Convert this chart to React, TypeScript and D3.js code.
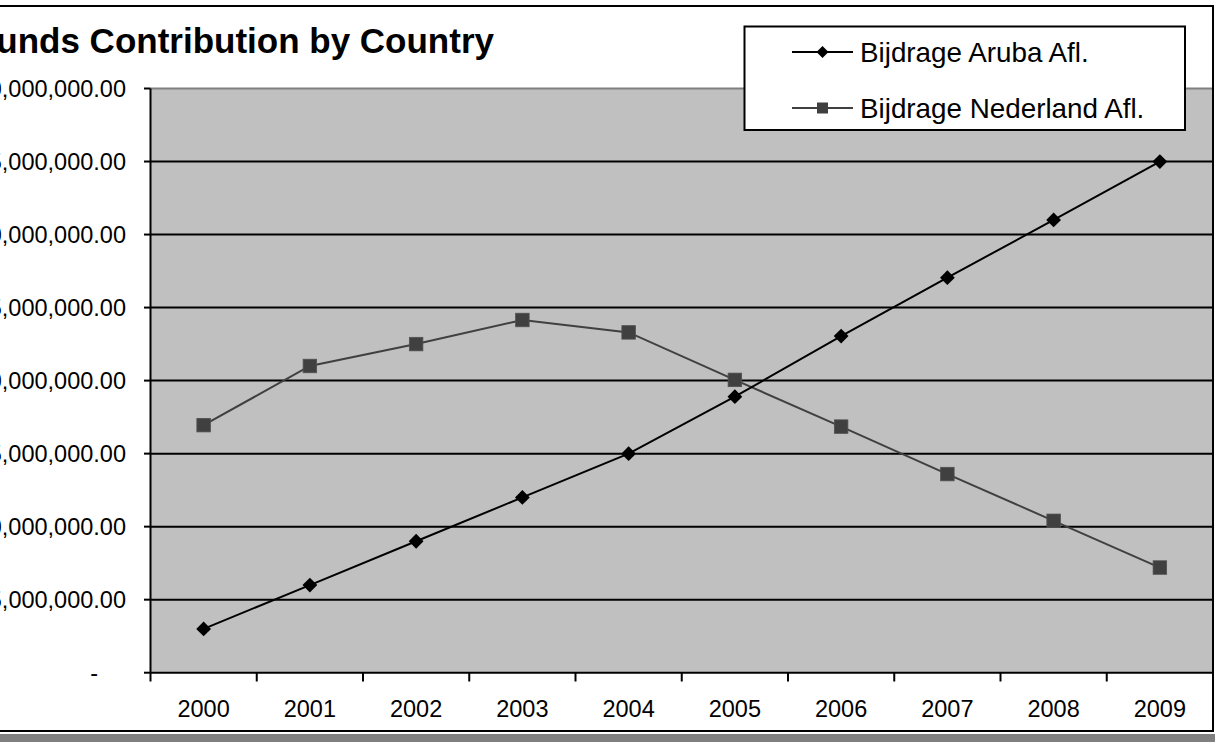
import React from "react";
import * as d3 from "d3";

const years = ["2000", "2001", "2002", "2003", "2004", "2005", "2006", "2007", "2008", "2009"];
const arubaValues = [3000000, 6000000, 9000000, 12000000, 15000000, 18900000, 23050000, 27050000, 31000000, 35000000];
const nederlandValues = [16950000, 21000000, 22500000, 24150000, 23300000, 20050000, 16850000, 13600000, 10400000, 7200000];
const yTickValues = [0, 5000000, 10000000, 15000000, 20000000, 25000000, 30000000, 35000000, 40000000];
const seriesNames = ["Bijdrage Aruba Afl.", "Bijdrage Nederland Afl."];
const titleText = "Funds Contribution by Country";

const W = 1215;
const H = 742;
const plot = { left: 150.5, right: 1213, top: 88.5, bottom: 672.7 };
const FONT = "'Liberation Sans', Arial, Helvetica, sans-serif";

export default function App() {
  const x = d3.scaleBand<string>().domain(years).range([plot.left, plot.right]).paddingInner(0).paddingOuter(0);
  const y = d3.scaleLinear().domain([0, 40000000]).range([plot.bottom, plot.top]);
  const cx = (d: string) => (x(d) as number) + x.bandwidth() / 2;
  const fmt = d3.format(",.2f");

  const line = d3
    .line<number>()
    .x((_, i) => cx(years[i]))
    .y((v) => y(v));

  const boundaries = years.map((d) => x(d) as number).concat([plot.right]);
  const diamond = (px: number, py: number, r: number) =>
    `M${px},${py - r}L${px + r},${py}L${px},${py + r}L${px - r},${py}Z`;

  const legendRows = [52, 108];

  return (
    <>
      <style>{`body{margin:0;}`}</style>
      <svg width={W} height={H} style={{ display: "block", background: "#fff" }} fontFamily={FONT}>
        {/* bottom gray band */}
        <rect x={0} y={734} width={W} height={H - 734} fill="#808080" />
        {/* outer frame */}
        <rect x={-100} y={6} width={1213 + 100} height={725} fill="#fff" stroke="#000" strokeWidth={2} />

        {/* title */}
        <text x={494} y={53} textAnchor="end" fontSize={35} fontWeight="bold" fill="#000">
          {titleText}
        </text>

        {/* plot area */}
        <rect x={plot.left} y={plot.top} width={plot.right - plot.left} height={plot.bottom - plot.top} fill="#c0c0c0" />
        <line x1={plot.left} x2={plot.right} y1={plot.top} y2={plot.top} stroke="#808080" strokeWidth={2} />

        {/* gridlines */}
        {yTickValues.slice(1, -1).map((v) => (
          <line key={v} x1={plot.left} x2={plot.right} y1={y(v)} y2={y(v)} stroke="#000" strokeWidth={2} />
        ))}

        {/* y axis */}
        <line x1={plot.left} x2={plot.left} y1={plot.top} y2={plot.bottom} stroke="#000" strokeWidth={2} />
        {yTickValues.map((v) => (
          <g key={v}>
            <line x1={144} x2={plot.left} y1={y(v)} y2={y(v)} stroke="#000" strokeWidth={2} />
            <text
              x={v === 0 ? 98 : 126}
              y={y(v)}
              dy="0.36em"
              textAnchor="end"
              fontSize={23.5}
              fill="#000"
            >
              {v === 0 ? "-" : fmt(v)}
            </text>
          </g>
        ))}

        {/* x axis */}
        <line x1={plot.left} x2={plot.right} y1={plot.bottom} y2={plot.bottom} stroke="#000" strokeWidth={2} />
        {boundaries.map((b, i) => (
          <line key={i} x1={b} x2={b} y1={plot.bottom} y2={681.5} stroke="#000" strokeWidth={2} />
        ))}
        {years.map((d) => (
          <text key={d} x={cx(d)} y={716.5} textAnchor="middle" fontSize={23.5} fill="#000">
            {d}
          </text>
        ))}

        {/* Nederland series */}
        <path d={line(nederlandValues) || ""} fill="none" stroke="#404040" strokeWidth={2} />
        {nederlandValues.map((v, i) => (
          <rect
            key={i}
            x={cx(years[i]) - 6.75}
            y={y(v) - 6.75}
            width={13.5}
            height={13.5}
            fill="#404040"
            stroke="#505050"
            strokeWidth={0.8}
          />
        ))}

        {/* Aruba series */}
        <path d={line(arubaValues) || ""} fill="none" stroke="#000" strokeWidth={2} />
        {arubaValues.map((v, i) => (
          <path key={i} d={diamond(cx(years[i]), y(v), 7.4)} fill="#000" />
        ))}

        {/* frame right edge drawn over plot */}
        <line x1={1213} x2={1213} y1={5} y2={732} stroke="#000" strokeWidth={2} />

        {/* legend */}
        <rect x={744.5} y={26.5} width={440.5} height={103.5} fill="#fff" stroke="#000" strokeWidth={2} />
        <line x1={792} x2={853} y1={legendRows[0]} y2={legendRows[0]} stroke="#000" strokeWidth={2} />
        <path d={diamond(822.5, legendRows[0], 6)} fill="#000" />
        <text x={860} y={legendRows[0]} dy="0.36em" fontSize={27.8} fill="#000">
          {seriesNames[0]}
        </text>
        <line x1={792} x2={853} y1={legendRows[1]} y2={legendRows[1]} stroke="#404040" strokeWidth={2} />
        <rect x={817} y={legendRows[1] - 5.5} width={11} height={11} fill="#404040" />
        <text x={860} y={legendRows[1]} dy="0.36em" fontSize={27.8} fill="#000">
          {seriesNames[1]}
        </text>
      </svg>
    </>
  );
}
